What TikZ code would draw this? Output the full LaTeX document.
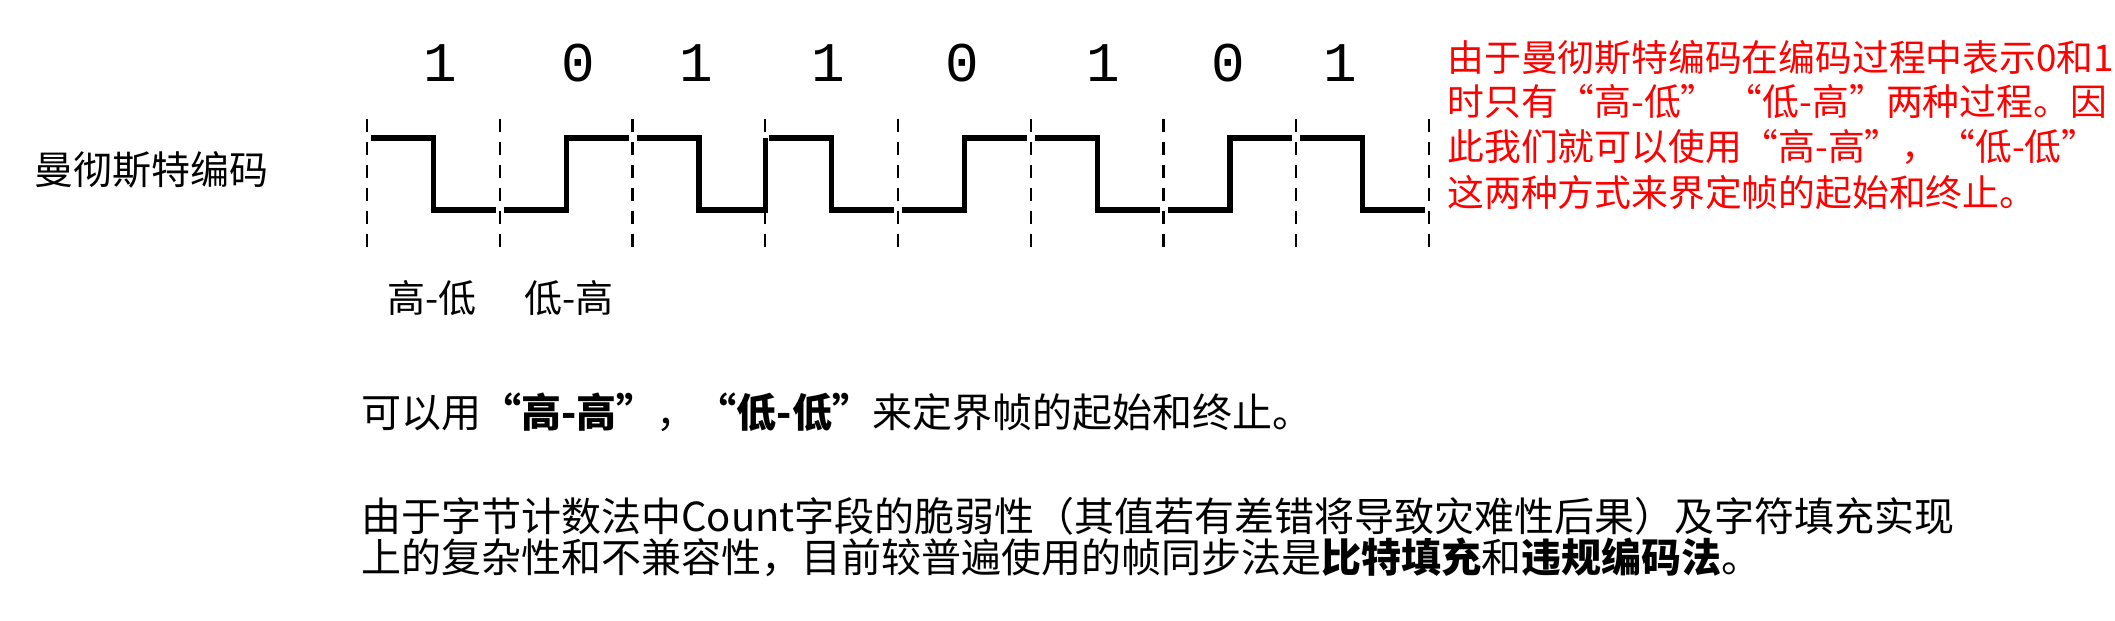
\documentclass[tikz,border=0pt]{standalone}
\usepackage{fontspec}
\setmainfont{Noto Sans CJK SC}
\newfontfamily\digitfont{Liberation Mono}
\definecolor{notered}{RGB}{255,0,0}
\begin{document}
\begin{tikzpicture}[x=0.5pt,y=-0.5pt,
  wave/.style={line width=2.6pt,line join=miter,line cap=butt},
  bound/.style={line width=1.2pt,dash pattern=on 6.5pt off 5pt},
  bitlabel/.style={anchor=base,inner sep=0pt,font=\digitfont\fontsize{28}{28}\selectfont},
  cjk/.style={anchor=base west,inner sep=0pt,font=\fontsize{20}{24}\selectfont},
  small/.style={anchor=base,inner sep=0pt,font=\fontsize{19}{22}\selectfont},
  redtxt/.style={anchor=base west,inner sep=0pt,text=notered,font=\fontsize{18.4}{22.5}\selectfont}]
\useasboundingbox (0,0) rectangle (2115,621);
\def\H{138}\def\L{210}
% boundaries
\foreach \i in {0,...,8}{
  \draw[bound] ({367+132.75*\i},119) -- ({367+132.75*\i},252);
}
% waveform, bit by bit: 1 0 1 1 0 1 0 1
\def\g{4}
\foreach \i/\b in {0/1,1/0,2/1,3/1,4/0,5/1,6/0,7/1}{
  \pgfmathsetmacro\xa{367+132.75*\i+\g}
  \pgfmathsetmacro\xm{367+132.75*\i+66.4}
  \pgfmathsetmacro\xb{367+132.75*(\i+1)-\g}
  \ifnum\b=1
    \draw[wave] (\xa,\H) -- (\xm,\H) -- (\xm,\L) -- (\xb,\L);
  \else
    \draw[wave] (\xa,\L) -- (\xm,\L) -- (\xm,\H) -- (\xb,\H);
  \fi
}
\draw[wave] (761.25,\L) -- (765.25,\L) -- (765.25,\H);
% bit values
\node[bitlabel] (b1) at (440,81) {1};
\node[bitlabel] (b2) at (578,81) {0};
\node[bitlabel] (b3) at (696,81) {1};
\node[bitlabel] (b4) at (828,81) {1};
\node[bitlabel] (b5) at (962,81) {0};
\node[bitlabel] (b6) at (1103,81) {1};
\node[bitlabel] (b7) at (1228,81) {0};
\node[bitlabel] (b8) at (1340,81) {1};
% labels
\node[cjk,font=\fontsize{19.5}{22}\selectfont] (title) at (34,184) {曼彻斯特编码};
\node[small] (hl) at (432,312) {高-低};
\node[small] (lh) at (569,312) {低-高};
% red note
\node[redtxt] (r1) at (1447,71) {由于曼彻斯特编码在编码过程中表示0和1};
\node[redtxt] (r2) at (1447,115) {时只有“高-低” “低-高”两种过程。因};
\node[redtxt] (r3) at (1447,160) {此我们就可以使用“高-高”，“低-低”};
\node[redtxt] (r4) at (1447,206) {这两种方式来界定帧的起始和终止。};
% bottom text
\node[cjk] (p1) at (361,427) {可以用\textbf{“高-高”}，\textbf{“低-低”}来定界帧的起始和终止。};
\node[cjk] (p2) at (361,531) {由于字节计数法中Count字段的脆弱性（其值若有差错将导致灾难性后果）及字符填充实现};
\node[cjk] (p3) at (361,572) {上的复杂性和不兼容性，目前较普遍使用的帧同步法是\textbf{比特填充}和\textbf{违规编码法}。};
\end{tikzpicture}
\end{document}
